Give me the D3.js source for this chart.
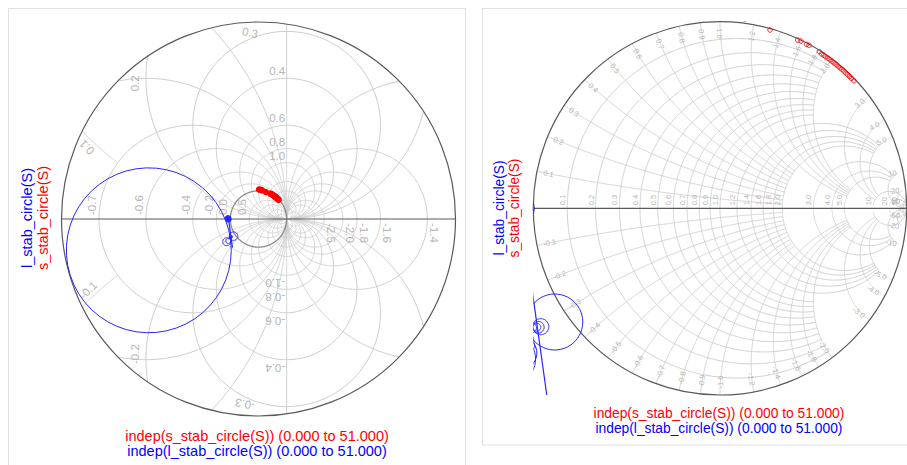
<!DOCTYPE html>
<html><head><meta charset="utf-8">
<script src="https://cdn.jsdelivr.net/npm/d3@7"></script>
<style>body{margin:0;background:#fff;} svg{display:block;font-family:"Liberation Sans",Arial,sans-serif;}</style>
</head><body><svg id="c" width="907" height="465"></svg>
<script>
// ---------------- data ----------------
// s_stab_circle(S): centres (re, im) and radii, reflection-coefficient plane
const sStabRe  = [0.020,0.060,0.100,0.134,0.268,0.416,0.434,0.464,0.477,0.532,0.544,0.555,0.566,0.578,0.589,0.600,0.611,0.622,0.633,0.643,0.653,0.663,0.674,0.684,0.694,0.704,0.717];
const sStabIm  = [1.048,1.040,1.028,1.014,0.955,0.901,0.896,0.878,0.873,0.839,0.827,0.820,0.812,0.804,0.796,0.787,0.779,0.770,0.761,0.752,0.744,0.735,0.725,0.716,0.706,0.696,0.683];
const sStabRad = [0.014,0.014,0.014,0.013,0.012,0.012,0.012,0.012,0.012,0.012,0.012,0.012,0.012,0.012,0.012,0.012,0.012,0.012,0.012,0.012,0.012,0.012,0.012,0.012,0.012,0.012,0.012];
// l_stab_circle(S)
const lStabRe  = [-3.898,-0.885,-1.130,-0.960,-0.973,-0.981,-1.071,-1.085,-1.080,-1.090,-1.075,-1.013];
const lStabIm  = [-1.112,-0.609,-0.807,-0.634,-0.637,-0.637,-0.775,0.020,-0.010,0.030,0.000,-0.640];
const lStabRad = [2.930,0.150,0.142,0.043,0.031,0.021,0.090,0.070,0.060,0.050,0.080,0.030];
// nearly straight part of a very large l_stab circle
const lStabChordRe = [-1.070,-0.925];
const lStabChordIm = [0.020,-1.020];
const seriesNames = ["l_stab_circle(S)","s_stab_circle(S)"];
const indepNames  = ["indep(s_stab_circle(S)) (0.000 to 51.000)","indep(l_stab_circle(S)) (0.000 to 51.000)"];

// left chart grid (display radius 7)
const leftR = [5,2,1,0.5,-0.2,-0.4,-0.6,-0.7,-0.8,-0.9,-1,-1.2,-1.4,-1.6,-1.8,-2.0,-2.5,-3,-5];
const leftX = [0.2,0.3,0.4,0.6,0.8,1.0,1.5,2,3,5,-0.2,-0.3,-0.4,-0.6,-0.8,-1.0,-1.5,-2,-3,-5];
const leftXShort = [0.1,-0.1];
const leftRLabelsL = [0.5,0.0,-0.2,-0.4,-0.6,-0.7];
const leftRLabelsR = [-2.5,-2.0,-1.8,-1.6,-1.4];
const leftXLabelsV = [0.4,0.6,0.8,1.0,-0.4,-0.6,-0.8,-1.0];
const leftRimLabels = ["0.3","0.2","0.1","-0.1","-0.2","-0.3"];

// right chart grid (standard)
const rightRA = [0.1,0.2,0.3,0.4,0.5,0.6,0.7,0.8,0.9,1.0];
const rightRB = [1.2,1.4,1.6,1.8,2.0];
const rightRC = [3.0,4.0,5.0];
const rightRD = [10,20,50];
const rightLabels = ["0.1","0.2","0.3","0.4","0.5","0.6","0.7","0.8","0.9","1.0","1.2","1.4","1.6","1.8","2.0","3.0","4.0","5.0","10","20","50"];

// ---------------- helpers ----------------
const svg = d3.select("#c");
const GRID = "#cdcdcd", LAB = "#b4b4b4", DARK = "#5a5a5a";
function gam(r, x){ const a=r-1,b=r+1,den=b*b+x*x; return [(a*b+x*x)/den, 2*x/den]; }
function rCurve(r, x1, x2){ const a1=Math.atan(x1),a2=Math.atan(x2),n=700,p=[];
  for(let i=0;i<=n;i++){ p.push(gam(r, Math.tan(a1+(a2-a1)*i/n))); } return p; }
function xCurve(x, r1, r2){ const a1=Math.atan(r1),a2=Math.atan(r2),n=700,p=[];
  for(let i=0;i<=n;i++){ p.push(gam(Math.tan(a1+(a2-a1)*i/n), x)); } return p; }
const INF = 1e7;
function circlePts(cx, cy, rad){ return d3.range(52).map(k=>[cx+rad*Math.cos(2*Math.PI*k/51), cy+rad*Math.sin(2*Math.PI*k/51)]); }

function makeChart(o){
  const sx = d3.scaleLinear().domain([-o.R,o.R]).range([o.cx-o.rp,o.cx+o.rp]);
  const sy = d3.scaleLinear().domain([-o.R,o.R]).range([o.cy+o.rp,o.cy-o.rp]);
  const g = svg.append("g");
  const cid = o.id+"clip", sid = o.id+"sq";
  const defs = svg.append("defs");
  defs.append("clipPath").attr("id",cid).append("circle").attr("cx",sx(0)).attr("cy",sy(0)).attr("r",sx(o.R)-sx(0));
  defs.append("clipPath").attr("id",sid).append("rect").attr("x",sx(-o.R)).attr("y",sy(o.R)).attr("width",sx(o.R)-sx(-o.R)).attr("height",sy(-o.R)-sy(o.R));
  const line = d3.line().x(d=>sx(d[0])).y(d=>sy(d[1])).defined(d=>isFinite(d[0])&&isFinite(d[1])&&Math.hypot(d[0],d[1])<o.R*1.4);
  const grid = g.append("g").attr("clip-path",`url(#${cid})`).attr("fill","none").attr("stroke",GRID).attr("stroke-width",1);
  return {sx,sy,g,grid,line,cid,sid};
}

// ---------------- panels ----------------
svg.append("rect").attr("x",8.5).attr("y",8.5).attr("width",457).attr("height",470).attr("fill","none").attr("stroke","#e2e2e2");
svg.append("rect").attr("x",482.5).attr("y",8.5).attr("width",440).attr("height",436.5).attr("fill","none").attr("stroke","#e2e2e2");

// ---------------- left chart ----------------
const L = makeChart({id:"L",R:7,cx:258.5,cy:219,rp:197});
leftR.forEach(r=>L.grid.append("path").attr("d",L.line(rCurve(r,-INF,INF))));
leftX.forEach(x=>L.grid.append("path").attr("d",L.line(xCurve(x,-INF,INF))));
leftXShort.forEach(x=>L.grid.append("path").attr("d",L.line(xCurve(x,-0.99,-0.7))));
L.grid.append("path").attr("d",L.line(rCurve(0,-INF,INF))).attr("stroke","#8c8c8c").attr("stroke-width",1.3);
L.g.append("line").attr("x1",L.sx(-7)).attr("x2",L.sx(7)).attr("y1",L.sy(0)).attr("y2",L.sy(0)).attr("stroke",DARK).attr("stroke-width",1.2);
L.g.append("circle").attr("cx",L.sx(0)).attr("cy",L.sy(0)).attr("r",L.sx(7)-L.sx(0)).attr("fill","none").attr("stroke",DARK).attr("stroke-width",1.2);
const LL = L.g.append("g").attr("fill",LAB).attr("font-size",11.5);
leftRLabelsL.forEach(r=>{ const px=L.sx(gam(r,0)[0]);
  LL.append("text").attr("transform",`translate(${px-3},${L.sy(0)-4}) rotate(-90)`).text(r.toFixed(1)); });
leftRLabelsR.forEach(r=>{ const px=L.sx(gam(r,0)[0]);
  LL.append("text").attr("transform",`translate(${px+3},${L.sy(0)+4}) rotate(90)`).text(r.toFixed(1)); });
leftXLabelsV.forEach(x=>{ const py=L.sy(2/x), px=L.sx(1);
  if(x>0) LL.append("text").attr("x",px-1.5).attr("y",py-3).attr("text-anchor","end").text(x.toFixed(1));
  else LL.append("text").attr("transform",`translate(${px-1.5},${py+4}) rotate(180)`).text(x.toFixed(1)); });
const rimPos = [[-0.30,6.62,12],[-4.38,4.82,-90],[-6.10,2.55,225],[-6.05,-2.53,-45],[-4.38,-4.80,-90],[-0.48,-6.58,190]];
leftRimLabels.forEach((t,i)=>{ const p=rimPos[i];
  LL.append("text").attr("transform",`translate(${L.sx(p[0])},${L.sy(p[1])}) rotate(${p[2]})`).attr("text-anchor","middle").attr("dy","0.35em").text(t); });

const dl = L.g.append("g").attr("clip-path",`url(#${L.sid})`).attr("fill","none");
sStabRe.forEach((c,i)=>dl.append("path").attr("d",L.line(circlePts(c,sStabIm[i],sStabRad[i]))).attr("stroke","#ff0000").attr("stroke-width",5.6).attr("stroke-linejoin","round"));
lStabRe.forEach((c,i)=>dl.append("path").attr("d",L.line(circlePts(c,lStabIm[i],lStabRad[i]))).attr("stroke","#2626ff").attr("stroke-width",i>=7&&i<=10?2.4:1));
dl.append("path").attr("d",L.line(d3.zip(lStabChordRe,lStabChordIm))).attr("stroke","#2626ff").attr("stroke-width",1.2);

// ---------------- right chart ----------------
const Rc = makeChart({id:"R",R:1,cx:720,cy:208.3,rp:186.7});
function rr(vals,x1,x2){ vals.forEach(r=>Rc.grid.append("path").attr("d",Rc.line(rCurve(r,x1,x2)))); }
function xx(vals,r1,r2){ vals.forEach(x=>{ Rc.grid.append("path").attr("d",Rc.line(xCurve(x,r1,r2))); Rc.grid.append("path").attr("d",Rc.line(xCurve(-x,r1,r2))); }); }
rr(rightRA,-2,2); rr(rightRB,-5,5); rr(rightRC,-10,10); rr(rightRD,-INF,INF);
xx(rightRA,0,2); xx(rightRB,0,5); xx(rightRC,0,10); xx(rightRD,0,INF);
Rc.g.append("line").attr("x1",Rc.sx(-1)).attr("x2",Rc.sx(1)).attr("y1",Rc.sy(0)).attr("y2",Rc.sy(0)).attr("stroke",DARK).attr("stroke-width",1.2);
Rc.g.append("circle").attr("cx",Rc.sx(0)).attr("cy",Rc.sy(0)).attr("r",Rc.sx(1)-Rc.sx(0)).attr("fill","none").attr("stroke",DARK).attr("stroke-width",1.2);
const RL = Rc.g.append("g").attr("fill",LAB).attr("font-size",7.5);
rightLabels.forEach(t=>{ const r=+t, px=Rc.sx(gam(r,0)[0]);
  RL.append("text").attr("transform",`translate(${px-2},${Rc.sy(0)-3}) rotate(-90)`).text(t); });
rightLabels.forEach(t=>{ [1,-1].forEach(s=>{ const x=+t*s, p=gam(0,x), ang=Math.atan2(-p[1],p[0])*180/Math.PI;
  const qx=Rc.sx(p[0]*0.965), qy=Rc.sy(p[1]*0.965);
  let rot = ang+180; if (p[0]>0) rot = ang;
  RL.append("text").attr("transform",`translate(${qx},${qy}) rotate(${rot})`).attr("text-anchor",p[0]>0?"end":"start").attr("dy","0.35em").text(s<0?"-"+t:t); }); });
const dr = Rc.g.append("g").attr("clip-path",`url(#${Rc.sid})`).attr("fill","none");
sStabRe.forEach((c,i)=>dr.append("path").attr("d",Rc.line(circlePts(c,sStabIm[i],sStabRad[i]))).attr("stroke","#ff0000").attr("stroke-width",1));
lStabRe.forEach((c,i)=>dr.append("path").attr("d",Rc.line(circlePts(c,lStabIm[i],lStabRad[i]))).attr("stroke","#2626ff").attr("stroke-width",1));
dr.append("path").attr("d",Rc.line(d3.zip(lStabChordRe,lStabChordIm))).attr("stroke","#2626ff").attr("stroke-width",1.2);

// ---------------- legends ----------------
function legends(x1,x2,cy,fs,bx,by1,by2){
  svg.append("text").attr("transform",`translate(${x1},${cy}) rotate(-90)`).attr("text-anchor","middle").attr("font-size",fs).attr("fill","#0000ff").text(seriesNames[0]);
  svg.append("text").attr("transform",`translate(${x2},${cy}) rotate(-90)`).attr("text-anchor","middle").attr("font-size",fs).attr("fill","#ff0000").text(seriesNames[1]);
  svg.append("text").attr("x",bx).attr("y",by1).attr("text-anchor","middle").attr("font-size",fs).attr("fill","#ff0000").text(indepNames[0]);
  svg.append("text").attr("x",bx).attr("y",by2).attr("text-anchor","middle").attr("font-size",fs).attr("fill","#0000ff").text(indepNames[1]);
}
legends(32.3,47.8,218,14.5,257,441,455.5);
legends(504,519,208,13.8,719,417.5,432.5);
</script></body></html>
